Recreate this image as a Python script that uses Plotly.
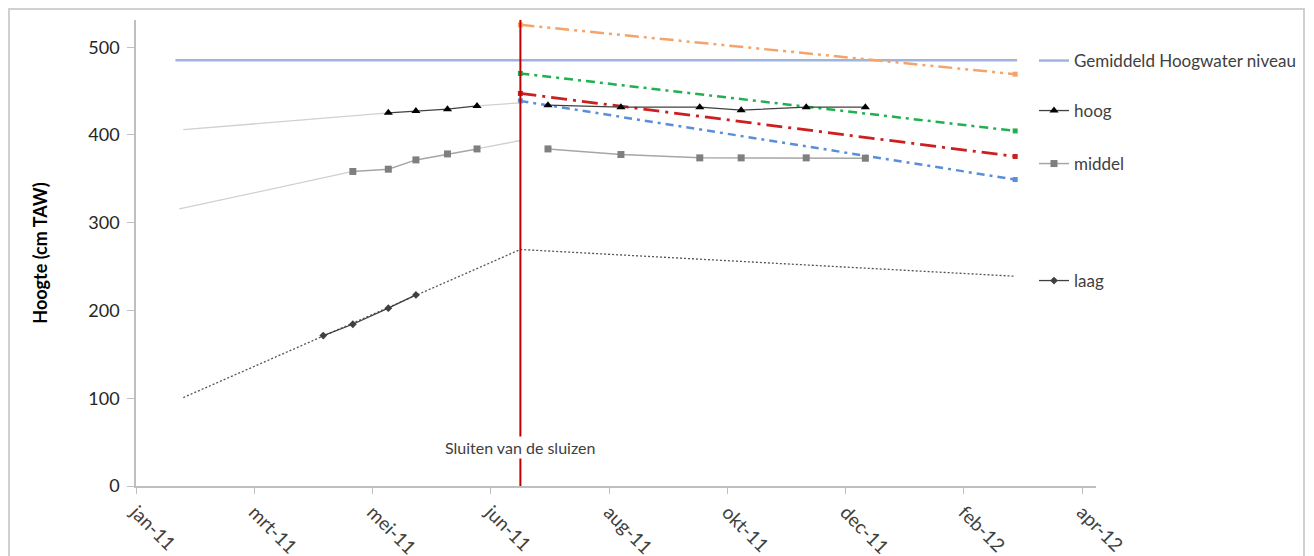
import plotly.graph_objects as go

# ---- axis ticks (Excel date axis, 60-day major unit) ----
tick_dates = ["2011-01-01", "2011-03-02", "2011-05-01", "2011-06-30", "2011-08-29",
              "2011-10-28", "2011-12-27", "2012-02-25", "2012-04-25"]
tick_labels = ["jan-11", "mrt-11", "mei-11", "jun-11", "aug-11",
               "okt-11", "dec-11", "feb-12", "apr-12"]
y_ticks = [0, 100, 200, 300, 400, 500]

# ---- data ----
hgw_dates = ["2011-01-21", "2012-03-23"]
hgw_values = [485, 485]

hoog_dates_a = ["2011-05-09", "2011-05-23", "2011-06-08", "2011-06-23"]
hoog_values_a = [425.2, 427.4, 429.4, 433.1]
hoog_dates_b = ["2011-07-29", "2011-09-04", "2011-10-14", "2011-11-04", "2011-12-07", "2012-01-06"]
hoog_values_b = [433.9, 431.7, 431.7, 428.3, 431.7, 431.7]
hoog_trend_dates = ["2011-01-25", "2011-05-09", None, "2011-06-23", "2011-07-15"]
hoog_trend_values = [406.0, 425.2, None, 433.1, 436.6]

middel_dates_a = ["2011-04-21", "2011-05-09", "2011-05-23", "2011-06-08", "2011-06-23"]
middel_values_a = [358.4, 361.0, 371.6, 378.4, 384.1]
middel_dates_b = ["2011-07-29", "2011-09-04", "2011-10-14", "2011-11-04", "2011-12-07", "2012-01-06"]
middel_values_b = [384.1, 377.7, 373.9, 373.9, 373.9, 373.5]
middel_trend_dates = ["2011-01-23", "2011-04-21", None, "2011-06-23", "2011-07-15"]
middel_trend_values = [315.7, 358.4, None, 384.1, 393.7]

laag_dates = ["2011-04-06", "2011-04-21", "2011-05-09", "2011-05-23"]
laag_values = [171.4, 184.3, 202.6, 217.7]
laag_trend_dates = ["2011-01-25", "2011-07-15", "2012-03-22"]
laag_trend_values = [100.8, 269.5, 239.0]

proj_dates = ["2011-07-15", "2012-03-22"]
proj_orange = [525.5, 469.3]
proj_green = [470.1, 404.6]
proj_red = [447.3, 375.5]
proj_blue = [438.8, 349.2]

sluiting_datum = "2011-07-15"
sluiting_tekst = "Sluiten van de sluizen"

FONT = "Lato"
fig = go.Figure()

# Gemiddeld hoogwater
fig.add_trace(go.Scatter(x=hgw_dates, y=hgw_values, mode="lines",
                         line=dict(color="#9db4e0", width=2.5),
                         name="Gemiddeld Hoogwater niveau", legend="legend"))

# projections
for vals, col, dash, w in [
    (proj_orange, "#f4a46a", "14px,5px,3px,5px,3px,5px", 2.5),
    (proj_green, "#1fb050", "9px,5px,3px,5px", 2.5),
    (proj_red, "#cc1f1f", "16px,6px,3px,6px", 2.8),
    (proj_blue, "#5b8ed8", "8px,5px,3px,5px", 2.5),
]:
    fig.add_trace(go.Scatter(x=proj_dates, y=vals, mode="lines+markers",
                             line=dict(color=col, width=w, dash=dash),
                             marker=dict(symbol="square", size=5, color=col),
                             showlegend=False))

# trend (light grey) lines
fig.add_trace(go.Scatter(x=hoog_trend_dates, y=hoog_trend_values, mode="lines",
                         line=dict(color="#d0d0d0", width=1.3), showlegend=False, connectgaps=False))
fig.add_trace(go.Scatter(x=middel_trend_dates, y=middel_trend_values, mode="lines",
                         line=dict(color="#d0d0d0", width=1.3), showlegend=False, connectgaps=False))
fig.add_trace(go.Scatter(x=laag_trend_dates, y=laag_trend_values, mode="lines",
                         line=dict(color="#555555", width=1.3, dash="2px,2px"), showlegend=False))

# hoog
fig.add_trace(go.Scatter(x=hoog_dates_a, y=hoog_values_a, mode="lines+markers",
                         line=dict(color="#404040", width=1.3),
                         marker=dict(symbol="triangle-up", size=8, color="#000000"),
                         showlegend=False))
fig.add_trace(go.Scatter(x=hoog_dates_b, y=hoog_values_b, mode="lines+markers",
                         line=dict(color="#404040", width=1.3),
                         marker=dict(symbol="triangle-up", size=8, color="#000000"),
                         name="hoog", legend="legend2"))

# middel
fig.add_trace(go.Scatter(x=middel_dates_a, y=middel_values_a, mode="lines+markers",
                         line=dict(color="#a6a6a6", width=1.5),
                         marker=dict(symbol="square", size=7, color="#7f7f7f"),
                         showlegend=False))
fig.add_trace(go.Scatter(x=middel_dates_b, y=middel_values_b, mode="lines+markers",
                         line=dict(color="#a6a6a6", width=1.5),
                         marker=dict(symbol="square", size=7, color="#7f7f7f"),
                         name="middel", legend="legend3"))

# laag
fig.add_trace(go.Scatter(x=laag_dates, y=laag_values, mode="lines+markers",
                         line=dict(color="#404040", width=1.3),
                         marker=dict(symbol="diamond", size=6, color="#404040"),
                         name="laag", legend="legend4"))

# closing of sluices
fig.add_vline(x=sluiting_datum, line=dict(color="#c00000", width=2))
fig.add_annotation(x=sluiting_datum, y=44, xref="x", yref="y", text=sluiting_tekst,
                   showarrow=False, bgcolor="white",
                   font=dict(family=FONT, size=16, color="#404040"))

# layout geometry (page body adds an 8px offset)
OFF = 8
W, H = 1314, 556
l, r, t, b = 136 - OFF, 1314 - (1096 - OFF), 20 - OFF, 556 - (486 - OFF)
pw, ph = W - l - r, H - t - b
def px(x):
    return (x - OFF - l) / pw
def py(y):
    return (H - b - (y - OFF)) / ph

fig.add_shape(type="rect", xref="paper", yref="paper",
              x0=px(9), x1=px(1304), y0=py(600), y1=py(9),
              line=dict(color="#d0d0d0", width=2), fillcolor="rgba(0,0,0,0)", layer="below")

legend_common = dict(xref="paper", yref="paper", x=px(1034), xanchor="left", yanchor="middle",
                     bgcolor="rgba(0,0,0,0)", borderwidth=0,
                     font=dict(family=FONT, size=17, color="#404040"))
fig.update_layout(
    width=W, height=H,
    margin=dict(l=l, r=r, t=t, b=b, autoexpand=False),
    paper_bgcolor="white", plot_bgcolor="white",
    font=dict(family=FONT, size=14, color="#404040"),
    legend=dict(y=py(61), **legend_common),
    legend2=dict(y=py(111), **legend_common),
    legend3=dict(y=py(164), **legend_common),
    legend4=dict(y=py(281), **legend_common),
    xaxis=dict(type="date", range=["2011-01-01", "2012-05-02"],
               tickmode="array", tickvals=tick_dates, ticktext=tick_labels,
               tickangle=45, ticks="outside", ticklen=6, tickcolor="#bfbfbf",
               showline=True, linecolor="#bfbfbf", linewidth=1.5,
               showgrid=False, zeroline=False,
               tickfont=dict(family=FONT, size=19, color="#404040")),
    yaxis=dict(range=[0, 531], tickmode="array", tickvals=y_ticks,
               ticks="outside", ticklen=7, tickcolor="#bfbfbf",
               showline=True, linecolor="#bfbfbf", linewidth=1.5,
               showgrid=False, zeroline=False, ticklabelstandoff=4,
               tickfont=dict(family=FONT, size=18, color="#262626"),
               title=dict(text="<b>Hoogte (cm TAW)</b>", standoff=36,
                          font=dict(family=FONT, size=18, color="#000000"))),
)

fig.write_html("out.html")
